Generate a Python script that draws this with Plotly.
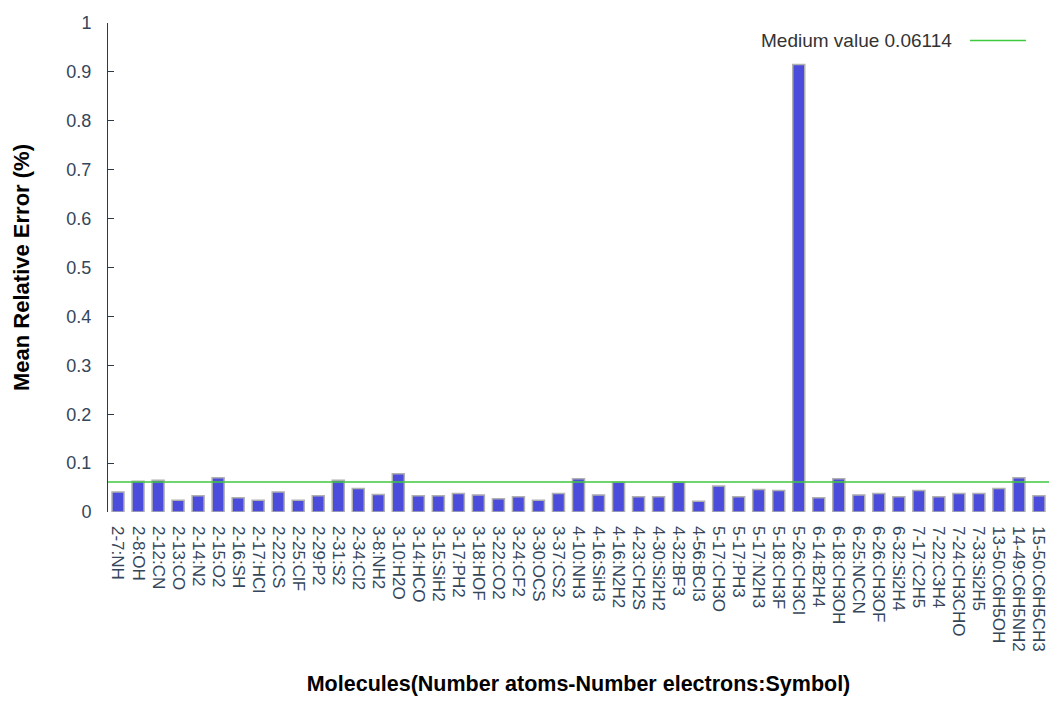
import plotly.graph_objects as go

# Molecules: "atoms-electrons:symbol"
molecules = [
    "2-7:NH", "2-8:OH", "2-12:CN", "2-13:CO", "2-14:N2", "2-15:O2", "2-16:SH",
    "2-17:HCl", "2-22:CS", "2-25:ClF", "2-29:P2", "2-31:S2", "2-34:Cl2",
    "3-8:NH2", "3-10:H2O", "3-14:HCO", "3-15:SiH2", "3-17:PH2", "3-18:HOF",
    "3-22:CO2", "3-24:CF2", "3-30:OCS", "3-37:CS2", "4-10:NH3", "4-16:SiH3",
    "4-16:N2H2", "4-23:CH2S", "4-30:Si2H2", "4-32:BF3", "4-56:BCl3",
    "5-17:CH3O", "5-17:PH3", "5-17:N2H3", "5-18:CH3F", "5-26:CH3Cl",
    "6-14:B2H4", "6-18:CH3OH", "6-25:NCCN", "6-26:CH3OF", "6-32:Si2H4",
    "7-17:C2H5", "7-22:C3H4", "7-24:CH3CHO", "7-33:Si2H5", "13-50:C6H5OH",
    "14-49:C6H5NH2", "15-50:C6H5CH3",
]

# Mean relative error per molecule (%)
mean_relative_error = [
    0.041, 0.063, 0.065, 0.024, 0.033, 0.070, 0.029,
    0.024, 0.041, 0.024, 0.033, 0.065, 0.048,
    0.036, 0.078, 0.033, 0.033, 0.038, 0.035,
    0.027, 0.031, 0.024, 0.038, 0.068, 0.035,
    0.061, 0.031, 0.031, 0.061, 0.022,
    0.053, 0.031, 0.046, 0.044, 0.915,
    0.029, 0.068, 0.035, 0.038, 0.031,
    0.044, 0.031, 0.038, 0.038, 0.048,
    0.070, 0.033,
]

medium_value = 0.06114

y_ticks = [0, 0.1, 0.2, 0.3, 0.4, 0.5, 0.6, 0.7, 0.8, 0.9, 1]
y_tick_text = ["0", "0.1", "0.2", "0.3", "0.4", "0.5", "0.6", "0.7", "0.8", "0.9", "1"]

FONT = "Liberation Sans, Arial, sans-serif"
TEXT_COLOR = "#34465a"
AXIS_COLOR = "#2c3a4a"
BAR_COLOR = "#4b4bdc"
LINE_COLOR = "#3fc93f"

fig = go.Figure()

fig.add_trace(go.Bar(
    x=molecules,
    y=mean_relative_error,
    marker=dict(color=BAR_COLOR, line=dict(color="#b0b0b0", width=1.5)),
    showlegend=False,
    hoverinfo="x+y",
))

# Average line across the whole plot
fig.add_shape(
    type="line", xref="paper", yref="y",
    x0=0, x1=1, y0=medium_value, y1=medium_value,
    line=dict(color=LINE_COLOR, width=1.5),
)

# Legend-style label with its line sample on the right
fig.add_annotation(
    xref="paper", yref="paper", x=0.692, y=0.965,
    xanchor="left", yanchor="middle", showarrow=False,
    text=f"Medium value {medium_value:.5f}",
    font=dict(family=FONT, size=19, color="#333333"),
)
fig.add_shape(
    type="line", xref="paper", yref="paper",
    x0=0.916, x1=0.9755, y0=0.965, y1=0.965,
    line=dict(color=LINE_COLOR, width=1.5),
)

fig.update_layout(
    width=1049, height=711,
    margin=dict(l=108, r=0, t=23, b=191, autoexpand=False),
    paper_bgcolor="white", plot_bgcolor="white",
    bargap=0.4,
    font=dict(family=FONT, size=17, color=TEXT_COLOR),
    xaxis=dict(
        anchor="free", position=0,
        showgrid=False, zeroline=False, showline=False, ticks="",
        tickmode="array", tickvals=molecules, ticktext=molecules,
        tickangle=90, tickfont=dict(family=FONT, size=17, color=TEXT_COLOR),
        ticklabelstandoff=5, automargin=False,
        title=dict(
            text="<b>Molecules(Number atoms-Number electrons:Symbol)</b>",
            font=dict(family=FONT, size=21.5, color="#000000"),
            standoff=25,
        ),
    ),
    yaxis=dict(
        domain=[0.0161, 1],
        range=[0, 1], showgrid=False, zeroline=False,
        showline=True, linecolor=AXIS_COLOR, linewidth=1,
        ticks="inside", ticklen=6, tickcolor=AXIS_COLOR,
        tickvals=y_ticks, ticktext=y_tick_text,
        tickfont=dict(family=FONT, size=18, color=TEXT_COLOR),
        ticklabelstandoff=12, automargin=False,
        title=dict(
            text="<b>Mean Relative Error (%)</b>",
            font=dict(family=FONT, size=22, color="#000000"),
            standoff=30,
        ),
    ),
)

fig.write_html("out.html")
